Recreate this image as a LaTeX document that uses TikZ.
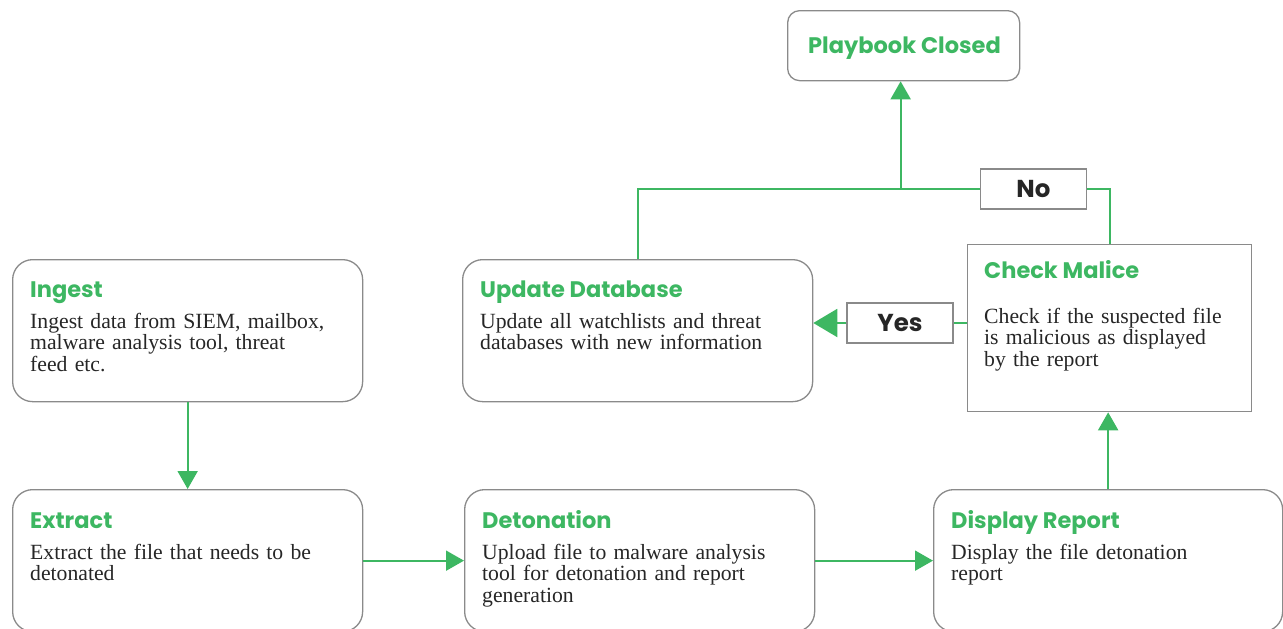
\documentclass[tikz,border=0pt]{standalone}
\usepackage{fontspec}
\setmainfont{Liberation Serif}
\newfontfamily\headfont{Poppins}
\usetikzlibrary{positioning,arrows.meta}
\definecolor{sgreen}{HTML}{3DB762}
\definecolor{sgrey}{HTML}{8A8A8A}
\definecolor{sink}{HTML}{262626}

\begin{document}
\begin{tikzpicture}[x=1pt,y=-1pt,>={Triangle[width=20pt,length=18pt]},
	box/.style={draw=sgrey,line width=1.3pt,rounded corners=20pt,inner sep=0pt,minimum width=350pt,minimum height=142pt,anchor=north west},
	flat/.style={box,rounded corners=0pt,minimum width=284pt,minimum height=167pt},
	tag/.style={draw=sgrey,line width=1.3pt,inner sep=0pt,minimum width=106pt,minimum height=40pt,text=sink,font=\headfont\bfseries\fontsize{24.5}{24.5}\selectfont},
	head/.style={anchor=base west,inner sep=0pt,text=sgreen,font=\headfont\bfseries\fontsize{22.5}{22.5}\selectfont},
	body/.style={anchor=base west,inner sep=0pt,align=left,text width=320pt,text=sink,font=\fontsize{21.7}{21.5}\selectfont},
	link/.style={draw=sgreen,line width=2pt}]
	\useasboundingbox (0,0) rectangle (1283,629);

	\node[box,rounded corners=12pt,minimum width=232pt,minimum height=70pt] (playbook) at (787,10) {};
	\node[box] (ingest) at (12,259) {};
	\node[box] (update) at (462,259) {};
	\node[flat] (check) at (967,244) {};
	\node[box] (extract) at (12,489) {};
	\node[box] (deton) at (464,489) {};
	\node[box,minimum width=349pt] (display) at (933,489) {};
	\node[tag] (no) at (1033.5,189) {No};
	\node[tag] (yes) at (900,323) {Yes};

	\node[head] (playbookhead) at ([shift={(21,43)}]playbook.north west) {Playbook Closed};
	\node[head] (ingesthead) at ([shift={(18,38)}]ingest.north west) {Ingest};
	\node[body] (ingestbody) at ([shift={(18,69)}]ingest.north west) {Ingest data from SIEM, mailbox,\\malware analysis tool, threat\\feed etc.};
	\node[head] (updatehead) at ([shift={(18,38)}]update.north west) {Update Database};
	\node[body] (updatebody) at ([shift={(18,69)}]update.north west) {Update all watchlists and threat\\databases with new information};
	\node[head] (checkhead) at ([shift={(17,34)}]check.north west) {Check Malice};
	\node[body] (checkbody) at ([shift={(17,79)}]check.north west) {Check if the suspected file\\is malicious as displayed\\by the report};
	\node[head] (extracthead) at ([shift={(18,39)}]extract.north west) {Extract};
	\node[body] (extractbody) at ([shift={(18,70)}]extract.north west) {Extract the file that needs to be\\detonated};
	\node[head] (detonhead) at ([shift={(18,39)}]deton.north west) {Detonation};
	\node[body] (detonbody) at ([shift={(18,70)}]deton.north west) {Upload file to malware analysis\\tool for detonation and report\\generation};
	\node[head] (displayhead) at ([shift={(18,39)}]display.north west) {Display Report};
	\node[body] (displaybody) at ([shift={(18,70)}]display.north west) {Display the file detonation\\report};

	\coordinate (join) at ([xshift=-3pt]playbook.south |- no);
	\draw[link,->] (ingest) -- (extract);
	\draw[link,->] (extract) -- (deton);
	\draw[link,->] (deton) -- (display);
	\draw[link,->] (display.north) -- (display.north |- check.south);
	\draw[link] (check.west |- yes) -- (yes);
	\draw[link,->,>={Triangle[width=28pt,length=24pt]}] (yes) -- (update.east |- yes);
	\draw[link] (check.north) |- (no);
	\draw[link] (no) -- (join) -| (update.north);
	\draw[link,->] (join) -- (join |- playbook.south);
\end{tikzpicture}
\end{document}
